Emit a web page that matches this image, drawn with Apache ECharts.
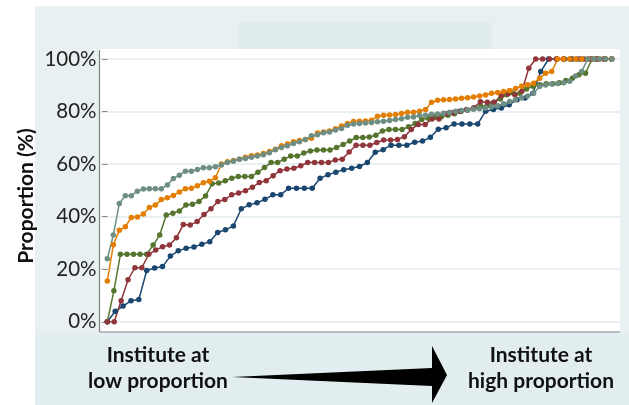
<!DOCTYPE html>
<html>
<head>
<meta charset="utf-8">
<script src="https://cdn.jsdelivr.net/npm/echarts@6/dist/echarts.min.js"></script>
<style>
  html, body { margin: 0; padding: 0; background: #fff; }
  #chart { width: 629px; height: 405px; }
</style>
</head>
<body>
<div id="chart"></div>
<script>
// proportions (%) per institute, sorted low -> high, one array per group
const navyVals = [0, 4, 6, 8, 8.5, 19.5, 20.5, 21, 25, 27, 28, 28.5, 29.5, 30.5, 34, 35, 36.5, 43, 44.5, 45.3,
  46.6, 48.3, 48.3, 50.8, 50.8, 50.8, 50.8, 54.6, 56, 56.9, 57.9, 58.4, 59.1, 60.6, 64.5, 65.5, 67.2, 67.2, 67.2, 68.3,
  68.8, 70.2, 73.3, 73.8, 75.3, 75.3, 75.3, 75.3, 80.1, 80.8, 81.4, 82.6, 84.5, 85.2, 87, 95.2, 100, 100, 100, 100,
  100, 100, 100, 100, 100];
const maroonVals = [0, 0, 8, 16, 20.6, 20.6, 25.7, 27.3, 28.6, 29.2, 32, 37, 36.8, 38.2, 40.8, 43, 45.8, 46.5, 48.3, 49,
  49.9, 51.2, 53, 53.7, 55.6, 57.5, 58.1, 58.4, 59.4, 60.6, 60.6, 60.6, 60.6, 61.6, 61.9, 64.6, 67.2, 67.2, 67.2, 68.2,
  69.2, 69.2, 69.4, 70.4, 73.2, 75.1, 75.1, 77.2, 77.2, 79.2, 79.5, 80.1, 80.8, 81.4, 83.7, 83.5, 83.5, 86, 86.8, 86.4,
  87.7, 96.5, 100, 100, 100, 100, 100, 100, 100, 100, 100, 100, 100, 100];
const greenVals = [0, 11.8, 25.7, 25.7, 25.7, 25.7, 25.7, 29.2, 33, 40.6, 41.3, 42.2, 44.4, 44.7, 45.8, 47.9, 52.5, 52.8, 53.7, 54.6,
  55.3, 55.3, 55.3, 56.9, 58.7, 60.6, 60.6, 61.9, 63.1, 63.1, 64.2, 65, 65.4, 65.4, 65.4, 66.3, 67.5, 68.8, 70.1, 70.1,
  70.3, 71, 72.6, 73.2, 73.2, 73.2, 74.2, 75.5, 77, 77.5, 78, 78, 78.6, 79.2, 80, 80.5, 81.4, 82, 82.3, 83.5,
  84.8, 86.4, 87, 87, 88.6, 89.6, 90.2, 90.6, 90.6, 91, 91.8, 92.7, 94, 94.6, 100, 100, 100, 100];
const orangeVals = [15.5, 29.3, 34.8, 36.2, 39.7, 39.9, 41, 43.5, 44.4, 46.5, 47.2, 48.1, 49.4, 50.6, 50.8, 51.8, 52.9, 53.5, 54.8, 60,
  60.9, 61.4, 61.9, 62.6, 63.2, 63.5, 64, 64.8, 65.7, 67, 67.7, 68.5, 69, 69.4, 69.8, 71.8, 72.2, 72.6, 73.5, 74.5,
  75.5, 76.2, 76.3, 76.4, 76.7, 78.2, 78.6, 78.7, 78.9, 79.3, 79.7, 79.7, 80.1, 80.8, 83.5, 84.3, 84.5, 84.6, 84.8, 85.1,
  85.3, 85.5, 85.9, 86.3, 87, 87.3, 87.6, 88, 88.8, 89.6, 90.2, 90.8, 92.7, 94.6, 95.2, 100, 100, 100, 100, 100,
  100, 100, 100, 100, 100];
const tealVals = [24, 33, 45, 48, 48, 49.7, 50.5, 50.6, 50.6, 50.6, 52.1, 54.5, 55.8, 57.3, 57.3, 58, 58.6, 58.6, 59, 59.7,
  60.6, 61.1, 61.9, 62.1, 62.6, 63.1, 63.6, 64.3, 65.5, 66.3, 67, 67.8, 68.5, 69.4, 70.8, 71.2, 71.9, 72.2, 73, 73.6,
  74.8, 75.3, 75.5, 75.6, 75.8, 76.1, 76.3, 76.6, 77, 77.3, 77.8, 77.9, 78.5, 78.6, 79, 79.1, 79.4, 79.7, 80.1, 80.4,
  80.7, 80.9, 81.1, 81.4, 81.8, 82.2, 83, 83.8, 84.5, 85.2, 85.9, 87, 89.5, 90.1, 90.5, 90.7, 91, 91.5, 93.5, 95.2,
  100, 100, 100, 100, 100];

const yTicks = [0, 20, 40, 60, 80, 100];
const groups = [
  { vals: navyVals, color: '#1a476f' },
  { vals: greenVals, color: '#55752f' },
  { vals: maroonVals, color: '#90353b' },
  { vals: orangeVals, color: '#e37e00' },
  { vals: tealVals, color: '#6e8e84' }
];

// rank -> 0..100 along the x axis
function toRank(vals) {
  return vals.map((v, i) => [i / (vals.length - 1) * 100, v]);
}

const chart = echarts.init(document.getElementById('chart'), null, { renderer: 'canvas' });

const option = {
  animation: false,
  backgroundColor: '#ffffff',
  grid: { left: 99.5, right: 9, top: 59, height: 262.8 },
  xAxis: { type: 'value', min: -1.55, max: 101.65, show: false },
  yAxis: {
    type: 'value',
    min: yTicks[0],
    max: yTicks[yTicks.length - 1],
    interval: 20,
    axisLine: { show: false },
    axisTick: { show: true, length: 5, lineStyle: { color: '#808080', width: 1 } },
    axisLabel: {
      margin: 3,
      fontFamily: 'Lato',
      fontSize: 20.5,
      color: '#222',
      formatter: v => v + '%'
    },
    splitLine: { show: true, lineStyle: { color: '#e8f0f2', width: 2 } }
  },
  series: groups.map(g => ({
    type: 'line',
    data: toRank(g.vals),
    symbol: 'circle',
    symbolSize: 5.5,
    color: g.color,
    lineStyle: { width: 1.5, color: g.color },
    itemStyle: { color: g.color }
  })),
  graphic: [
    // background panels
    { type: 'rect', z: -10, shape: { x: 35, y: 6, width: 594, height: 399 }, style: { fill: '#e8f0f2' } },
    { type: 'rect', z: -9, shape: { x: 238, y: 22, width: 254, height: 27 }, style: { fill: '#e1eded' } },
    { type: 'rect', z: -9, shape: { x: 35, y: 334, width: 594, height: 71 }, style: { fill: '#e1edef' } },
    { type: 'rect', z: -8, shape: { x: 99.5, y: 49, width: 520.5, height: 283 }, style: { fill: '#ffffff' } },
    // plot frame
    { type: 'line', z: 5, shape: { x1: 99.5, y1: 50, x2: 99.5, y2: 332 }, style: { stroke: '#808080', lineWidth: 1.2 } },
    { type: 'line', z: 5, shape: { x1: 99.5, y1: 332, x2: 620, y2: 332 }, style: { stroke: '#808080', lineWidth: 1.2 } },
    // y title
    {
      type: 'text',
      z: 5,
      x: 26, y: 196,
      rotation: Math.PI / 2,
      style: {
        text: 'Proportion (%)',
        align: 'center', verticalAlign: 'middle',
        fontFamily: 'Lato', fontWeight: 'bold', fontSize: 21, fill: '#111'
      }
    },
    // arrow
    {
      type: 'polygon',
      z: 5,
      shape: { points: [[232, 377], [432, 368], [432, 346], [447, 375], [432, 403], [432, 386]] },
      style: { fill: '#000000' }
    },
    {
      type: 'text',
      z: 5,
      x: 158, y: 368,
      style: {
        text: 'Institute at\nlow proportion',
        align: 'center', verticalAlign: 'middle',
        fontFamily: 'Lato', fontWeight: 'bold', fontSize: 21, lineHeight: 26, fill: '#111'
      }
    },
    {
      type: 'text',
      z: 5,
      x: 541, y: 368,
      style: {
        text: 'Institute at\nhigh proportion',
        align: 'center', verticalAlign: 'middle',
        fontFamily: 'Lato', fontWeight: 'bold', fontSize: 21, lineHeight: 26, fill: '#111'
      }
    }
  ]
};

chart.setOption(option);
</script>
</body>
</html>
